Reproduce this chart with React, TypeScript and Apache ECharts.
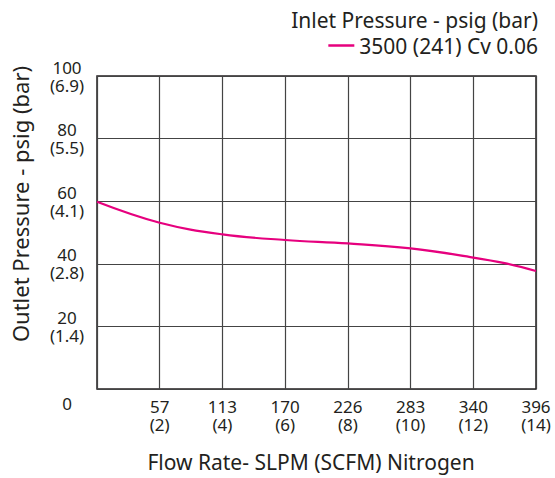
import React, { useEffect, useRef } from "react";
import * as echarts from "echarts";

const flowScfm = [0, 2, 4, 6, 8, 10, 12, 13, 14];
const outletPsig = [59.8, 53.1, 49.4, 47.6, 46.5, 44.9, 42.0, 40.2, 37.7];
const xTickSlpm: Record<number, string> = { 2: "57", 4: "113", 6: "170", 8: "226", 10: "283", 12: "340", 14: "396" };
const yTickBar: Record<number, string> = { 20: "1.4", 40: "2.8", 60: "4.1", 80: "5.5", 100: "6.9" };
const seriesName = "3500 (241) Cv 0.06";
const legendTitle = "Inlet Pressure - psig (bar)";
const xTitle = "Flow Rate- SLPM (SCFM) Nitrogen";
const yTitle = "Outlet Pressure - psig (bar)";

const FONT = "Noto Sans";
const TXT = "#231f20";

export default function App() {
  const ref = useRef<HTMLDivElement>(null);
  useEffect(() => {
    document.body.style.margin = "0";
    const chart = echarts.init(ref.current!, null, { renderer: "svg" });
    chart.setOption({
      animation: false,
      textStyle: { fontFamily: FONT, color: TXT },
      title: {
        text: legendTitle,
        right: 12,
        top: 4,
        textStyle: { fontFamily: FONT, fontSize: 21, fontWeight: "normal", color: TXT },
      },
      legend: {
        right: 12,
        top: 30,
        data: [seriesName],
        icon: "rect",
        itemWidth: 26,
        itemHeight: 2.5,
        itemGap: 8,
        textStyle: { fontFamily: FONT, fontSize: 21, color: TXT },
      },
      grid: {
        left: 97,
        right: 19,
        top: 76,
        bottom: 89,
        show: true,
        borderColor: TXT,
        borderWidth: 1.5,
      },
      xAxis: {
        type: "value",
        min: 0,
        max: 14,
        interval: 2,
        axisLine: { show: false },
        axisTick: { show: false },
        splitLine: { show: true, lineStyle: { color: "#444", width: 1.2 } },
        axisLabel: {
          margin: 8,
          fontFamily: FONT,
          fontSize: 17,
          lineHeight: 18,
          color: TXT,
          formatter: (v: number) => (xTickSlpm[v] ? `${xTickSlpm[v]}\n(${v})` : ""),
        },
      },
      yAxis: {
        type: "value",
        min: 0,
        max: 100,
        interval: 20,
        axisLine: { show: false },
        axisTick: { show: false },
        splitLine: { show: true, lineStyle: { color: "#444", width: 1.2 } },
        axisLabel: {
          margin: 30,
          align: "center",
          fontFamily: FONT,
          fontSize: 17,
          lineHeight: 18,
          color: TXT,
          formatter: (v: number) => (v === 0 ? "{zero|0}" : `${v}\n(${yTickBar[v]})`),
          rich: {
            zero: { fontFamily: FONT, fontSize: 17, color: TXT, padding: [28, 0, 0, 0] },
          },
        },
      },
      graphic: [
        {
          type: "text",
          x: 311,
          y: 462,
          style: {
            text: xTitle,
            fontFamily: FONT,
            fontSize: 21,
            fill: TXT,
            align: "center",
            verticalAlign: "middle",
          },
        },
        {
          type: "text",
          x: 20,
          y: 204,
          rotation: Math.PI / 2,
          style: {
            text: yTitle,
            fontFamily: FONT,
            fontSize: 22,
            fill: TXT,
            align: "center",
            verticalAlign: "middle",
          },
        },
      ],
      series: [
        {
          name: seriesName,
          type: "line",
          smooth: 0.4,
          showSymbol: false,
          lineStyle: { color: "#e6007e", width: 2.2 },
          itemStyle: { color: "#e6007e" },
          data: flowScfm.map((x, i) => [x, outletPsig[i]]),
        },
      ],
    });
    return () => chart.dispose();
  }, []);
  return <div ref={ref} style={{ width: 555, height: 478 }} />;
}
